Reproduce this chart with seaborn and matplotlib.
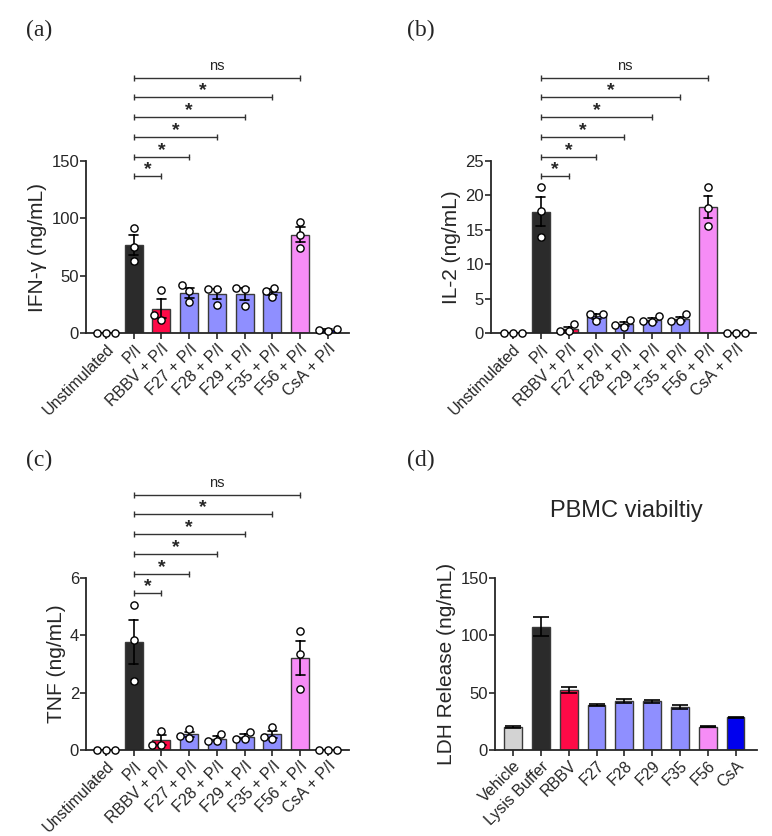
import matplotlib
matplotlib.use("Agg")
import matplotlib.pyplot as plt
import matplotlib.transforms as mtransforms
import numpy as np
import pandas as pd
import seaborn as sns
import warnings

warnings.filterwarnings("ignore")

# --- data ---
groups = ["Unstimulated", "P/I", "RBBV + P/I", "F27 + P/I", "F28 + P/I",
          "F29 + P/I", "F35 + P/I", "F56 + P/I", "CsA + P/I"]

ifng = [[0, 0, 0], [92, 75, 63], [37.5, 15.4, 11], [41.6, 37, 26.7],
        [38.4, 38.4, 24.7], [39.5, 38.7, 23.8], [39.5, 36.3, 31.4],
        [97, 85.5, 74.4], [1.7, 3.5, 2.9]]
il2 = [[0, 0, 0], [21.2, 17.7, 14.0], [1.26, 0.3, 0.3], [2.7, 2.7, 1.8],
       [1.9, 1.1, 0.9], [2.4, 1.7, 1.6], [2.7, 1.7, 1.7],
       [21.2, 18.2, 15.6], [0, 0, 0]]
tnf = [[0, 0, 0], [5.07, 3.82, 2.39], [0.68, 0.16, 0.16], [0.72, 0.50, 0.42],
       [0.56, 0.32, 0.30], [0.63, 0.38, 0.38], [0.80, 0.45, 0.40],
       [4.14, 3.34, 2.13], [0, 0, 0]]

sig_labels = ["*", "*", "*", "*", "*", "ns"]
sig_targets = [2, 3, 4, 5, 6, 7]

ldh_groups = ["Vehicle", "Lysis Buffer", "RBBV", "F27", "F28", "F29",
              "F35", "F56", "CsA"]
ldh_mean = [20.0, 107.5, 52.2, 39.3, 42.6, 42.6, 37.4, 20.3, 28.4]
ldh_sem = [0.9, 8.4, 2.5, 1.0, 1.5, 1.2, 2.0, 0.5, 0.7]

colors = ["#d3d3d3", "#2b2b2b", "#ff0a47", "#8f8fff", "#8f8fff",
          "#8f8fff", "#8f8fff", "#f68cf6", "#0000ee"]

sns.set_theme(style="ticks")
plt.rcParams["font.family"] = ["Liberation Sans", "DejaVu Sans"]
plt.rcParams["axes.linewidth"] = 1.3

fig = plt.figure(figsize=(7.72, 8.36), dpi=100)
W, H = 772, 836


def add_ax(x0, x1, ytop, ybot):
    return fig.add_axes([x0 / W, 1 - ybot / H, (x1 - x0) / W, (ybot - ytop) / H])


def style_ax(ax, ymax, yticks, ylabel, labels, xlim):
    ax.set_ylim(0, ymax)
    ax.set_yticks(yticks)
    ax.set_xlim(*xlim)
    ax.set_ylabel(ylabel, fontsize=15, labelpad=3)
    ax.set_xlabel("")
    ax.set_xticks(range(len(labels)))
    ax.set_xticklabels(labels, rotation=45, ha="right", rotation_mode="anchor",
                       fontsize=11.5)
    ax.tick_params(axis="y", labelsize=12, length=4, width=1.2, pad=1)
    ax.tick_params(axis="x", length=4, width=1.2, pad=2)
    sns.despine(ax=ax)


def cytokine_panel(ax, values, ymax, yticks, ylabel, xlim):
    df = pd.DataFrame({
        "group": np.repeat(groups, 3),
        "value": np.concatenate(values),
    })
    sns.barplot(data=df, x="group", y="value", order=groups, hue="group",
                palette=colors, saturation=1, legend=False, width=0.65,
                errorbar="se", capsize=0.32, edgecolor="#3a3a3a", linewidth=1,
                err_kws={"color": "black", "linewidth": 1.2}, ax=ax)
    sns.swarmplot(data=df, x="group", y="value", order=groups, color="white",
                  edgecolor="black", linewidth=1, size=5.2, ax=ax)
    for coll in ax.collections:
        coll.set_zorder(5)
        coll.set_clip_on(False)
    style_ax(ax, ymax, yticks, ylabel, groups, xlim)

    # significance brackets from P/I to each treatment
    trans = mtransforms.blended_transform_factory(ax.transData, ax.transAxes)
    for i, (tgt, lab) in enumerate(zip(sig_targets, sig_labels)):
        y = 0.91 + i * 0.115
        ax.plot([1, tgt], [y, y], color="#333333", lw=1, marker="|",
                markersize=5, markeredgewidth=1, transform=trans, clip_on=False)
        if lab == "*":
            ax.text((1 + tgt) / 2, y + 0.012, lab, transform=trans, ha="center",
                    va="baseline", fontsize=14, fontweight="bold")
        else:
            ax.text((1 + tgt) / 2, y + 0.045, lab, transform=trans, ha="center",
                    va="baseline", fontsize=10.5)


# (a) IFN-gamma
ax_a = add_ax(86, 349, 161, 333)
cytokine_panel(ax_a, ifng, 150, [0, 50, 100, 150], "IFN-\u03b3 (ng/mL)", (-0.72, 8.76))

# (b) IL-2
ax_b = add_ax(491, 756, 161, 333)
cytokine_panel(ax_b, il2, 25, [0, 5, 10, 15, 20, 25], "IL-2 (ng/mL)", (-0.78, 8.72))

# (c) TNF
ax_c = add_ax(86, 349, 578, 750)
cytokine_panel(ax_c, tnf, 6, [0, 2, 4, 6], "TNF (ng/mL)", (-0.72, 8.76))

# (d) LDH release
ax_d = add_ax(495, 757, 578, 750)
sns.barplot(x=ldh_groups, y=ldh_mean, hue=ldh_groups, palette=colors,
            saturation=1, legend=False, width=0.64, errorbar=None,
            edgecolor="#3a3a3a", linewidth=1, ax=ax_d)
ax_d.errorbar(range(len(ldh_groups)), ldh_mean, yerr=ldh_sem, fmt="none",
              ecolor="black", elinewidth=1.2, capsize=5.5, capthick=1.2, zorder=4)
style_ax(ax_d, 150, [0, 50, 100, 150], "LDH Release (ng/mL)", ldh_groups,
         (-0.65, 8.77))
ax_d.text(0.5, 1.39, "PBMC viabiltiy", transform=ax_d.transAxes, ha="center",
          va="center", fontsize=17)

# panel letters
for x, y, lab in [(26, 30, "(a)"), (407, 30, "(b)"), (26, 460, "(c)"), (407, 460, "(d)")]:
    fig.text(x / W, 1 - y / H, lab, family="Liberation Serif", fontsize=17,
             va="center", ha="left")

plt.savefig("out.png", dpi=100)
